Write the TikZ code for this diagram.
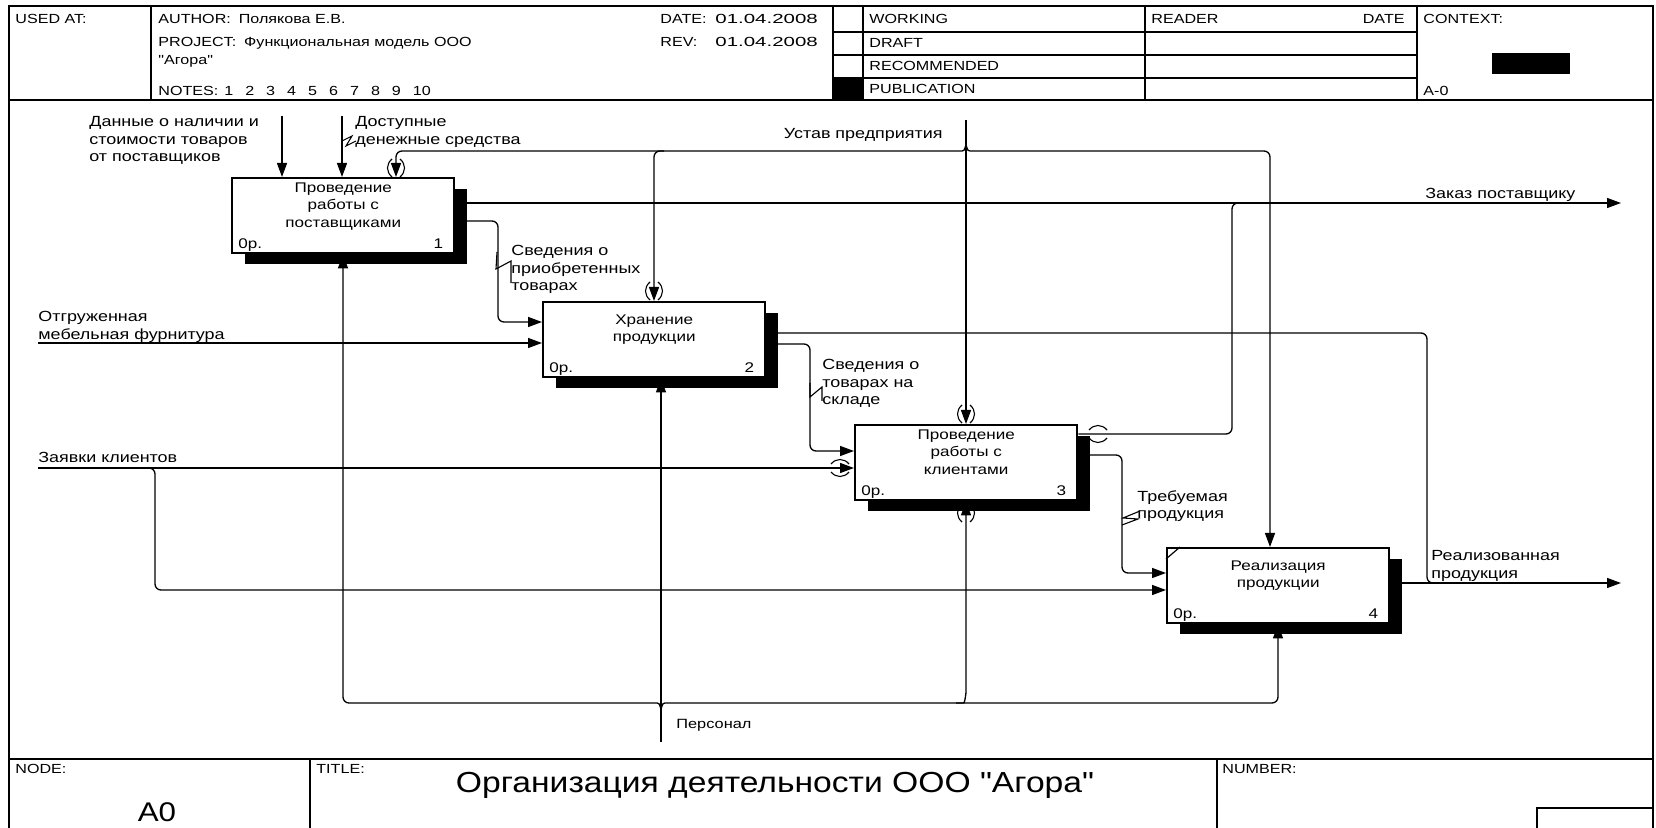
\documentclass[tikz,border=0pt]{standalone}
\usepackage{fontspec}
\setmainfont{Liberation Sans}[FakeStretch=1.22]
\newfontfamily\qfam{Liberation Sans}[FakeStretch=1.22]
\newfontfamily\ttlfam{Liberation Sans}[FakeStretch=1.16]
\newfontfamily\digfam{Liberation Sans}[FakeStretch=1.55]
\usetikzlibrary{arrows.meta,shadows}
\newcommand\hdrfont{\fontsize{6.6}{7.9}\selectfont}
\newcommand\lblfont{\fontsize{7.35}{8.75}\selectfont}
\newcommand\boxfont{\fontsize{7}{8.75}\selectfont}
\newcommand\persfont{\fontsize{6.7}{8}\selectfont}
\newcommand\ttlfont{\ttlfam\fontsize{14.5}{17}\selectfont}
\newcommand\nodefont{\ttlfam\fontsize{13.5}{16}\selectfont}
\newcommand\dq{{\qfam\symbol{34}}}
\begin{document}
\begin{tikzpicture}[x=0.5pt,y=-0.5pt,
 frame/.style={line width=0.75pt},
 hdr/.style={font=\hdrfont, inner sep=0, anchor=base west},
 lbl/.style={font=\lblfont, inner sep=0, align=left, anchor=north west},
 slbl/.style={font=\lblfont, inner sep=0, anchor=base west},
 btxt/.style={font=\boxfont, inner sep=0, align=center, anchor=north},
 arr/.style={line width=0.65pt, -{Triangle[length=7pt,width=5pt]}, rounded corners=3pt},
 ln/.style={line width=0.65pt, rounded corners=3pt},
 tun/.style={line width=0.55pt},
 box/.style={draw, line width=1.2pt, fill=white, minimum width=111pt, minimum height=37.5pt,
   inner sep=0, anchor=north west,
   drop shadow={shadow xshift=6.5pt, shadow yshift=-5.5pt, fill=black, opacity=1}},
 vtun/.pic={\draw[tun] (-4,-9) .. controls (-10,-4) and (-10,4) .. (-4,9);
            \draw[tun] (4,-9) .. controls (10,-4) and (10,4) .. (4,9);},
 htun/.pic={\draw[tun] (-9,-4) .. controls (-4,-10) and (4,-10) .. (9,-4);
            \draw[tun] (-9,4) .. controls (-4,10) and (4,10) .. (9,4);}]
\useasboundingbox (0,0) rectangle (1656,828);
\fill[white] (0,0) rectangle (1656,828);

% ---------- frame ----------
\draw[frame] (9,828) -- (9,6) -- (1653,6) -- (1653,828);
\draw[frame] (9,100) -- (1653,100);
\draw[frame] (151,6) -- (151,100);
\draw[frame] (833,6) -- (833,100);
\draw[frame] (863,6) -- (863,100);
\draw[frame] (1145,6) -- (1145,100);
\draw[frame] (1417,6) -- (1417,100);
\foreach \yy in {32,55,78} \draw[frame] (833,\yy) -- (1417,\yy);
\fill (833,78) rectangle (863,100);
\fill (1492,53) rectangle (1570,74);
\draw[frame] (9,759) -- (1653,759);
\draw[frame] (310,759) -- (310,828);
\draw[frame] (1217,759) -- (1217,828);
\draw[frame] (1537,828) -- (1537,808) -- (1653,808);

% ---------- header text ----------
\node[hdr] (hUsed) at (15,24) {USED AT:};
\node[hdr] (hAuth) at (158,24) {AUTHOR:\hspace{4pt}Полякова Е.В.};
\node[hdr] (hProj) at (158,47) {PROJECT:\hspace{4pt}Функциональная модель ООО};
\node[hdr] (hProj2) at (158,65) {\dq Агора\dq};
\node[hdr] (hNotes) at (158,96) {NOTES:\hspace{3pt}1\hspace{6pt}2\hspace{6pt}3\hspace{6pt}4\hspace{6pt}5\hspace{6pt}6\hspace{6pt}7\hspace{6pt}8\hspace{6pt}9\hspace{6pt}10};
\node[hdr] (hDate) at (660,24) {DATE:};
\node[hdr, font=\digfam\hdrfont] (hDateV) at (715,24) {01.04.2008};
\node[hdr] (hRev) at (660,47) {REV:};
\node[hdr, font=\digfam\hdrfont] (hRevV) at (715,47) {01.04.2008};
\node[hdr] (hWork) at (869,24) {WORKING};
\node[hdr] (hDraft) at (869,48) {DRAFT};
\node[hdr] (hRec) at (869,71) {RECOMMENDED};
\node[hdr] (hPub) at (869,94) {PUBLICATION};
\node[hdr] (hRead) at (1151,24) {READER};
\node[hdr, anchor=base east] (hRDate) at (1405,24) {DATE};
\node[hdr] (hCtx) at (1423,24) {CONTEXT:};
\node[hdr] (hA0) at (1423,96) {A-0};

% ---------- bottom block text ----------
\node[hdr] (fNode) at (15,773) {NODE:};
\node[hdr] (fTitle) at (316,773) {TITLE:};
\node[hdr] (fNum) at (1222,773) {NUMBER:};
\node[font=\ttlfont, inner sep=0, anchor=base] (title) at (775,792) {Организация деятельности ООО "Агора"};
\node[font=\nodefont, inner sep=0, anchor=base] (nodeA0) at (157,821) {A0};

% ---------- boxes ----------
\node[box] (b1) at (231,177) {};
\node[box] (b2) at (542,301) {};
\node[box] (b3) at (854,424) {};
\node[box] (b4) at (1166,547) {};
\node[btxt] (t1) at ([yshift=-2.5pt]b1.north) {Проведение\\работы с\\поставщиками};
\node[btxt] (t2) at ([yshift=-6.5pt]b2.north) {Хранение\\продукции};
\node[btxt] (t3) at ([yshift=-2.5pt]b3.north) {Проведение\\работы с\\клиентами};
\node[btxt] (t4) at ([yshift=-6.5pt]b4.north) {Реализация\\продукции};
\foreach \b/\n in {b1/1,b2/2,b3/3,b4/4}{
  \node[font=\boxfont, inner sep=0, anchor=base west] (c\b) at ([xshift=3.5pt,yshift=3pt]\b.south west) {0р.};
  \node[font=\boxfont, inner sep=0, anchor=base east] (n\b) at ([xshift=-6pt,yshift=3pt]\b.south east) {\n};
}
\draw[line width=0.6pt] ([yshift=-6pt]b4.north west) -- ([xshift=7pt]b4.north west);

% ---------- controls ----------
\coordinate (inD) at (282,116);
\draw[arr] (inD) -- (inD |- b1.north);
\coordinate (inM) at (342,116);
\draw[arr] (inM) -- (inM |- b1.north);
\coordinate (ust) at (966,120);
\draw[arr] (ust) -- (ust |- b3.north);
\coordinate (bus) at (966,151);
\coordinate (u1) at (396,151);
\coordinate (u2) at (654,151);
\coordinate (u4) at (1270,151);
\draw[arr] ([yshift=3pt]bus) .. controls ([xshift=-1pt]bus) .. ([xshift=-5pt]bus) -- (u1) -- (u1 |- b1.north);
\draw[arr] ([xshift=5pt]u2) -- (u2) -- (u2 |- b2.north);
\draw[arr] ([yshift=3pt]bus) .. controls ([xshift=1pt]bus) .. ([xshift=5pt]bus) -- (u4) -- (u4 |- b4.north);

% ---------- inputs / outputs ----------
\coordinate (zak) at (1621,203);
\draw[arr] (zak -| b1.east) -- (zak);
\coordinate (o1b) at (498,221);
\coordinate (i2a) at (498,322);
\draw[arr] (o1b -| b1.east) -- (o1b) -- (i2a) -- (i2a -| b2.west);
\coordinate (otg) at (38,343);
\draw[arr] (otg) -- (otg -| b2.west);
\coordinate (real) at (1621,583);
\coordinate (o2a) at (1427,333);
\draw[ln] (o2a -| b2.east) -- (o2a) -- (o2a |- real) -- ([xshift=6pt]o2a |- real);
\coordinate (o2b) at (810,344);
\coordinate (i3a) at (810,451);
\draw[arr] (o2b -| b2.east) -- (o2b) -- (i3a) -- (i3a -| b3.west);
\coordinate (zay) at (38,468);
\draw[arr] (zay) -- (zay -| b3.west);
\coordinate (zb) at (155,468);
\coordinate (zc) at (155,590);
\draw[arr] ([xshift=-4pt]zb) -- (zb) -- (zc) -- (zc -| b4.west);
\coordinate (o3a) at (1232,434);
\draw[ln] (o3a -| b3.east) -- (o3a) -- (o3a |- zak) -- ([xshift=6pt]o3a |- zak);
\coordinate (o3b) at (1122,455);
\coordinate (i4a) at (1122,573);
\draw[arr] (o3b -| b3.east) -- (o3b) -- (i4a) -- (i4a -| b4.west);
\draw[arr] (real -| b4.east) -- (real);

% ---------- mechanisms ----------
\coordinate (pers) at (661,742);
\coordinate (mj) at (661,703);
\coordinate (m1) at (343,703);
\coordinate (m3) at (966,703);
\coordinate (m4) at (1278,703);
\draw[arr] (pers) -- (pers |- b2.south);
\draw[arr] ([yshift=-3pt]mj) .. controls ([xshift=-1pt]mj) .. ([xshift=-5pt]mj) -- (m1) -- (m1 |- b1.south);
\draw[arr] ([yshift=-3pt]mj) .. controls ([xshift=1pt]mj) .. ([xshift=5pt]mj) -- (m4) -- (m4 |- b4.south);
\draw[arr] ([xshift=-5pt]m3) .. controls ([xshift=-1pt]m3) .. ([yshift=3pt]m3) -- (m3 |- b3.south);

% ---------- tunnels ----------
\pic at (396,168) {vtun};
\pic at (654,291) {vtun};
\pic at (966,414) {vtun};
\pic at (966,513) {vtun};
\pic at (840,468) {htun};
\pic at (1098,434) {htun};

% ---------- labels ----------
\node[lbl] (lD) at (89,116) {Данные о наличии и\\стоимости товаров\\от поставщиков};
\node[lbl] (lM) at (355,116) {Доступные\\денежные средства};
\node[slbl, anchor=base east] (lU) at (943,139) {Устав предприятия};
\node[slbl] (lZ) at (1425,199) {Заказ поставщику};
\node[lbl] (lS1) at (511,245) {Сведения о\\приобретенных\\товарах};
\node[lbl] (lO) at (38,311) {Отгруженная\\мебельная фурнитура};
\node[lbl] (lS2) at (822,359) {Сведения о\\товарах на\\складе};
\node[slbl] (lZa) at (38,463) {Заявки клиентов};
\node[lbl] (lT) at (1137,490) {Требуемая\\продукция};
\node[lbl] (lR) at (1431,550) {Реализованная\\продукция};
\node[slbl, font=\persfont] (lP) at (676,728) {Персонал};

% ---------- squiggles ----------
\draw[tun] (342,141) -- (352,136) -- (346,146) -- (356,141);
\draw[tun] (497,252) -- (496,269) -- (511,261) -- (511,283);
\draw[tun] (810,383) -- (810,397) -- (822,387) -- (822,401);
\draw[tun] (1140,511) -- (1123,518) -- (1138,519) -- (1122,525);
\end{tikzpicture}
\end{document}
